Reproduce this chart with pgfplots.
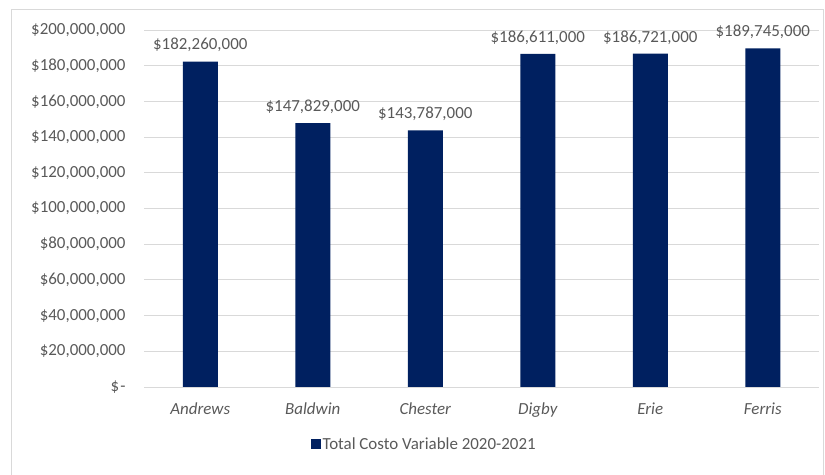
\documentclass[border=0pt]{standalone}
\usepackage{pgfplots}
\pgfplotsset{compat=1.18}
\usepackage{pgfplotstable}
\usepackage{fontspec}
\setmainfont{Carlito}
\definecolor{navy}{HTML}{002060}
\definecolor{txt}{HTML}{595959}
\definecolor{gridc}{HTML}{D9D9D9}
\pgfplotstableread{
x y label
0 182260000 {\$182,260,000}
1 147829000 {\$147,829,000}
2 143787000 {\$143,787,000}
3 186611000 {\$186,611,000}
4 186721000 {\$186,721,000}
5 189745000 {\$189,745,000}
}\data
\newcommand{\fs}{\fontsize{17}{20}\selectfont}
\begin{document}
\begin{tikzpicture}[x=1bp,y=1bp]
\useasboundingbox (0,0) rectangle (825,475);
\draw[gridc, line width=0.8bp] (11,-2) -- (11,466) -- (823,466) -- (823,-2);
\begin{axis}[
  at={(144bp,88bp)}, anchor=south west,
  scale only axis, width=675bp, height=357bp,
  xmin=-0.5, xmax=5.5, ymin=0, ymax=200000000,
  scaled y ticks=false,
  axis line style={draw=none},
  major tick length=0pt,
  ymajorgrids, grid style={gridc, line width=0.8bp},
  xtick={0,1,2,3,4,5},
  xticklabels={Andrews,Baldwin,Chester,Digby,Erie,Ferris},
  ytick={0,20000000,40000000,60000000,80000000,100000000,120000000,140000000,160000000,180000000,200000000},
  yticklabels={{\$\hspace{1bp}-\hspace{7bp}},{\$20,000,000},{\$40,000,000},{\$60,000,000},{\$80,000,000},{\$100,000,000},{\$120,000,000},{\$140,000,000},{\$160,000,000},{\$180,000,000},{\$200,000,000}},
  xticklabel style={font=\fs\itshape, text=txt, yshift=-12bp},
  yticklabel style={font=\fs, text=txt, xshift=-15bp},
  legend style={at={(0.415,-0.16)}, anchor=center, draw=none, font=\fs, text=txt, fill=none},
  legend image code/.code={\fill[navy] (-2bp,-5bp) rectangle (8bp,5bp);},
]
\addplot[ybar, bar width=35bp, fill=navy, draw=none,
  point meta=explicit symbolic,
  nodes near coords,
  every node near coord/.append style={font=\fs, text=txt, yshift=6bp}]
  table[x=x, y=y, meta=label] {\data};
\addlegendentry{Total Costo Variable 2020-2021}
\end{axis}
\end{tikzpicture}
\end{document}
